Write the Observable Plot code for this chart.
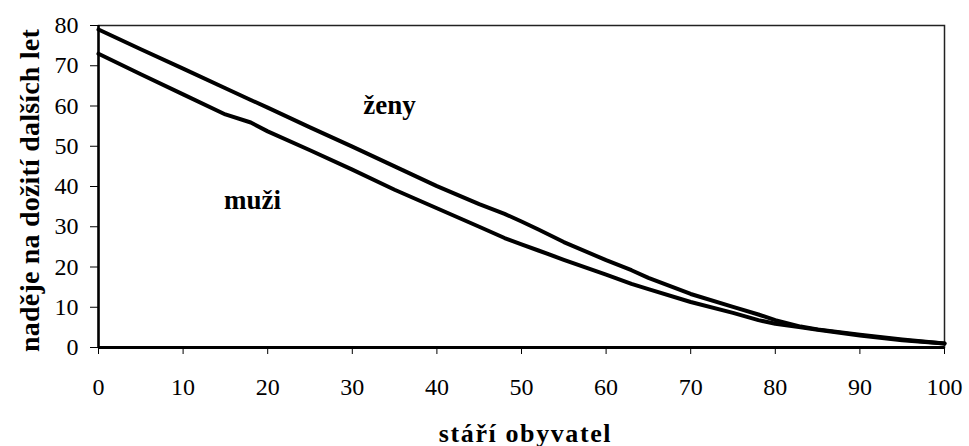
<!DOCTYPE html>
<html>
<head>
<meta charset="utf-8">
<script src="https://cdn.jsdelivr.net/npm/d3@7"></script>
<script src="https://cdn.jsdelivr.net/npm/@observablehq/plot@0.6"></script>
<style>
  html, body { margin: 0; padding: 0; background: #fff; }
  svg, svg text { font-family: "Times New Roman", "Liberation Serif", Tinos, serif !important; }
</style>
</head>
<body>
<div id="chart"></div>
<script>
const ages  = [0, 5, 10, 15, 18, 20, 25, 30, 35, 40, 45, 48, 50, 52, 55, 60, 63, 65, 70, 75, 78, 80, 83, 85, 90, 95, 100];
const zeny  = [79, 74.1, 69.3, 64.4, 61.5, 59.6, 54.7, 49.9, 45.0, 40.1, 35.6, 33.2, 31.3, 29.3, 26.2, 21.7, 19.2, 17.3, 13.3, 10.1, 8.2, 6.8, 5.2, 4.5, 3.2, 2.0, 1.0];
const muzi  = [73, 67.9, 62.9, 57.9, 55.9, 53.7, 49.0, 44.2, 39.2, 34.6, 30.0, 27.2, 25.6, 24.1, 21.8, 18.1, 15.8, 14.5, 11.3, 8.6, 6.8, 5.9, 5.0, 4.4, 3.0, 1.8, 1.0];

const xTicks = [0, 10, 20, 30, 40, 50, 60, 70, 80, 90, 100];
const yTicks = [0, 10, 20, 30, 40, 50, 60, 70, 80];

const seriesNames = ["ženy", "muži"];
const labelAge = [34.4, 18.2];
const labelVal = [60.2, 36.6];

const xTitle = ["stáří obyvatel"];
const yTitle = ["naděje na dožití dalších let"];

const FONT = "'Times New Roman', 'Liberation Serif', serif";

const rows = [];
ages.forEach((a, i) => {
  rows.push({age: a, value: zeny[i], s: seriesNames[0]});
  rows.push({age: a, value: muzi[i], s: seriesNames[1]});
});
const labels = seriesNames.map((n, i) => ({name: n, age: labelAge[i], value: labelVal[i]}));

const chart = Plot.plot({
  width: 969,
  height: 446,
  marginLeft: 98,
  marginRight: 25,
  marginTop: 25,
  marginBottom: 99,
  style: {fontFamily: FONT, fontSize: "24px", color: "black", background: "white"},
  x: {domain: [0, 100]},
  y: {domain: [0, 80]},
  marks: [
    Plot.frame({stroke: "#222", strokeWidth: 1.5}),
    Plot.axisY({ticks: yTicks, tickSize: 8, tickPadding: 12, label: null, tickFormat: d => String(d), fontSize: 24, fontFamily: FONT}),
    Plot.axisX({ticks: xTicks, tickSize: 7, tickPadding: 23, label: null, tickFormat: d => String(d), fontSize: 24, fontFamily: FONT}),
    Plot.ruleX([0], {stroke: "black", strokeWidth: 2.5}),
    Plot.ruleY([0], {stroke: "black", strokeWidth: 3}),
    Plot.line(rows, {x: "age", y: "value", z: "s", stroke: "black", strokeWidth: 4, strokeLinejoin: "round", strokeLinecap: "round"}),
    Plot.text(labels, {x: "age", y: "value", text: "name", fontWeight: "bold", fontSize: 27, fontFamily: FONT, fill: "black"}),
    Plot.text(xTitle, {text: d => d, frameAnchor: "bottom", textAnchor: "middle", lineAnchor: "bottom", dx: 4, dy: 94, fontWeight: "bold", fontSize: 26, fontFamily: FONT, fill: "black"}),
    Plot.text(yTitle, {text: d => d, frameAnchor: "left", textAnchor: "middle", rotate: -90, lineAnchor: "bottom", dx: -60, dy: 4, fontWeight: "bold", fontSize: 28, fontFamily: FONT, fill: "black"})
  ]
});
d3.select(chart).selectAll("text").each(function() {
  const t = this.textContent;
  if (t === xTitle[0]) this.style.letterSpacing = "1.6px";
  if (t === yTitle[0]) this.style.letterSpacing = "0.2px";
});
document.getElementById("chart").appendChild(chart);
</script>
</body>
</html>
